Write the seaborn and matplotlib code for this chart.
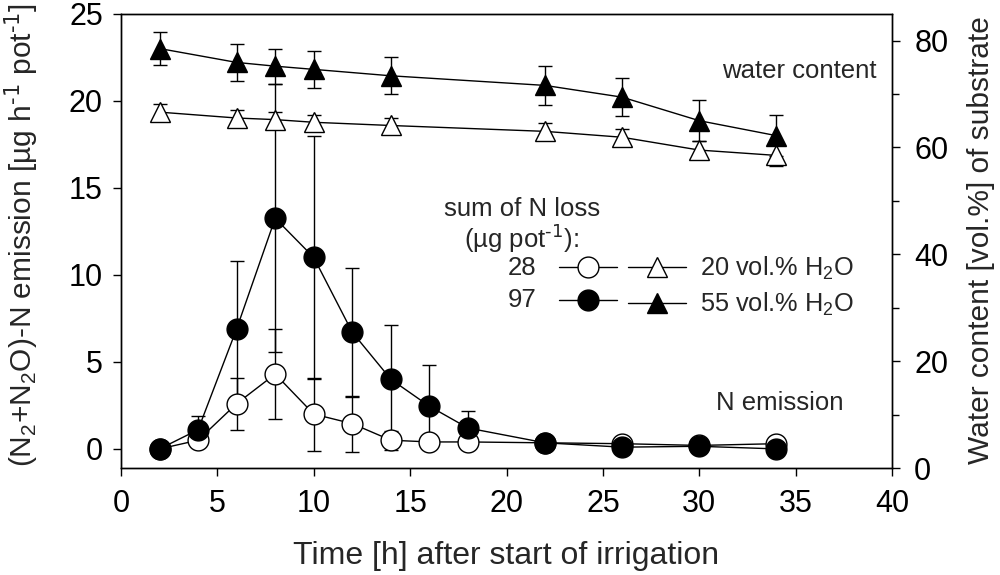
import numpy as np
import pandas as pd
import matplotlib
matplotlib.use("Agg")
import matplotlib.pyplot as plt
import seaborn as sns
from matplotlib.lines import Line2D
from matplotlib.ticker import MultipleLocator

# emission data (left axis)
time_em = [2, 4, 6, 8, 10, 12, 14, 16, 18, 22, 26, 30, 34]
emis_20 = [0.0, 0.5, 2.6, 4.3, 2.0, 1.45, 0.5, 0.4, 0.4, 0.35, 0.3, 0.2, 0.3]
emis_20_err = [0.1, 0.3, 1.5, 2.6, 2.1, 1.6, 0.55, 0.35, 0.3, 0.1, 0.1, 0.1, 0.1]
emis_55 = [0.0, 1.1, 6.9, 13.25, 11.0, 6.7, 4.0, 2.45, 1.2, 0.35, 0.1, 0.15, 0.0]
emis_55_err = [0.1, 0.8, 3.9, 7.7, 7.0, 3.7, 3.1, 2.35, 1.0, 0.1, 0.1, 0.1, 0.1]

# water content data (right axis)
time_wc = [2, 6, 8, 10, 14, 22, 26, 30, 34]
water_20 = [66.6, 65.5, 65.2, 64.7, 64.1, 63.0, 61.9, 59.5, 58.5]
water_20_err = [1.5, 1.5, 1.4, 1.4, 1.4, 1.5, 1.6, 1.7, 2.0]
water_55 = [78.5, 75.9, 75.2, 74.6, 73.4, 71.6, 69.4, 65.0, 62.2]
water_55_err = [3.1, 3.4, 3.3, 3.5, 3.5, 3.6, 3.6, 3.8, 3.8]

n_loss = ["28", "97"]
treatments = ["20 vol.% H$_2$O", "55 vol.% H$_2$O"]

sns.set_style("ticks")
plt.rcParams['font.family'] = ['Liberation Sans', 'DejaVu Sans']
plt.rcParams['mathtext.default'] = 'regular'
plt.rcParams['axes.edgecolor'] = 'black'
plt.rcParams['xtick.color'] = 'black'
plt.rcParams['ytick.color'] = 'black'
FS_TICK = 22
FS_XLAB = 23
FS_YLAB = 21.5
FS_TXT = 18.5
FS_LEG = 18.3
MS = 15

fig = plt.figure(figsize=(10, 5.75), dpi=100)
ax = fig.add_axes([0.121, 0.186, 0.771, 0.79])
ax2 = ax.twinx()

em = pd.DataFrame({"time": time_em, "e20": emis_20, "e55": emis_55})
wc = pd.DataFrame({"time": time_wc, "w20": water_20, "w55": water_55})

eb = dict(fmt='none', ecolor='black', elinewidth=1, capsize=5, capthick=1)
ax.errorbar(time_em, emis_20, yerr=emis_20_err, zorder=2, **eb)
ax.errorbar(time_em, emis_55, yerr=emis_55_err, zorder=2, **eb)
ax2.errorbar(time_wc, water_20, yerr=water_20_err, zorder=2, **eb)
ax2.errorbar(time_wc, water_55, yerr=water_55_err, zorder=2, **eb)

sns.lineplot(data=em, x="time", y="e20", ax=ax, color='black', lw=1, marker='o', markersize=MS,
             markerfacecolor='white', markeredgecolor='black', markeredgewidth=1, zorder=3)
sns.lineplot(data=em, x="time", y="e55", ax=ax, color='black', lw=1, marker='o', markersize=MS,
             markerfacecolor='black', markeredgecolor='black', markeredgewidth=1, zorder=4)
sns.lineplot(data=wc, x="time", y="w20", ax=ax2, color='black', lw=1, marker='^', markersize=MS,
             markerfacecolor='white', markeredgecolor='black', markeredgewidth=1, zorder=3)
sns.lineplot(data=wc, x="time", y="w55", ax=ax2, color='black', lw=1, marker='^', markersize=MS,
             markerfacecolor='black', markeredgecolor='black', markeredgewidth=1, zorder=4)

ax.set_xlim(0, 40)
ax.set_ylim(-1.1, 25)
ax2.set_ylim(0, 85)
ax.xaxis.set_major_locator(MultipleLocator(5))
ax.yaxis.set_major_locator(MultipleLocator(5))
ax2.yaxis.set_major_locator(MultipleLocator(20))
ax2.yaxis.set_minor_locator(MultipleLocator(10))

for a in (ax, ax2):
    for s in a.spines.values():
        s.set_linewidth(1)
        s.set_color('black')
ax.tick_params(axis='both', which='major', labelsize=FS_TICK, length=6, width=1, pad=7, direction='out')
ax.tick_params(axis='x', pad=9)
ax2.tick_params(axis='y', which='major', labelsize=FS_TICK, length=6, width=1, pad=10, direction='out')
ax2.tick_params(axis='y', which='minor', length=5, width=1, direction='out')

ax.set_xlabel("Time [h] after start of irrigation", fontsize=FS_XLAB, labelpad=16)
ax.set_ylabel("(N$_2$+N$_2$O)-N emission [µg h$^{\\text{-1}}$ pot$^{\\text{-1}}$]", fontsize=FS_YLAB)
ax2.set_ylabel("Water content [vol.%] of substrate", fontsize=FS_YLAB)
ax.yaxis.set_label_coords(-0.105, 0.513)
ax2.yaxis.set_label_coords(1.097, 0.502)

ax.text(39.2, 21.7, "water content", fontsize=FS_TXT, ha='right', va='center')
ax.text(37.5, 2.65, "N emission", fontsize=FS_TXT, ha='right', va='center')
ax.text(20.8, 13.8, "sum of N loss", fontsize=FS_TXT, ha='center', va='center')
ax.text(20.8, 12.1, "(µg pot$^{\\text{-1}}$):", fontsize=FS_TXT, ha='center', va='center')
ax.text(20.8, 10.4, n_loss[0], fontsize=FS_TXT, ha='center', va='center')
ax.text(20.8, 8.55, n_loss[1], fontsize=FS_TXT, ha='center', va='center')

handles = [
    Line2D([], [], color='black', lw=1, marker='o', markersize=MS, markerfacecolor='white', markeredgecolor='black'),
    Line2D([], [], color='black', lw=1, marker='o', markersize=MS, markerfacecolor='black', markeredgecolor='black'),
    Line2D([], [], color='black', lw=1, marker='^', markersize=MS, markerfacecolor='white', markeredgecolor='black'),
    Line2D([], [], color='black', lw=1, marker='^', markersize=MS, markerfacecolor='black', markeredgecolor='black'),
]
labels = ["", "", treatments[0], treatments[1]]
ax.legend(handles, labels, ncol=2, loc='upper left', bbox_to_anchor=(0.568, 0.47),
          frameon=False, fontsize=FS_LEG, handlelength=2.28, handletextpad=0.55,
          columnspacing=-0.12, labelspacing=0.35, borderpad=0, borderaxespad=0)

fig.savefig("out.png", dpi=100)
